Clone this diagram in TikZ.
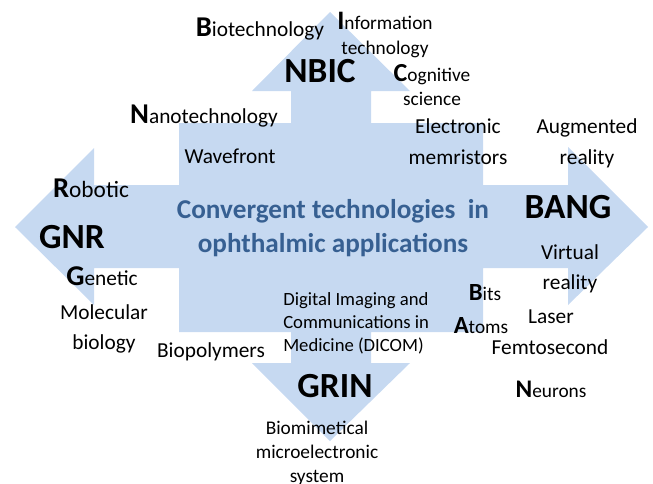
\documentclass[tikz,border=0pt]{standalone}
\usepackage{fontspec}
\setmainfont{Carlito}
\newcommand{\first}[2][21.5]{{\fontsize{#1}{#1}\selectfont\bfseries #2}}

\begin{document}
\begin{tikzpicture}[x=0.75pt,y=0.75pt,yscale=-1,xscale=1,
		word/.style={anchor=base,inner sep=0pt,align=center,font=\fontsize{16}{#1}\selectfont},
		word/.default=18,
		small/.style={anchor=base,inner sep=0pt,align=center,font=\fontsize{14.5}{#1}\selectfont},
		small/.default=18,
		big/.style={anchor=base,inner sep=0pt,font=\fontsize{26.5}{30}\selectfont\bfseries}]
		\useasboundingbox (0,0) rectangle (653,483);
		
		% four way arrow
		\draw  [draw=none][fill={rgb, 255:red, 198; green, 217; blue, 241 }  ,fill opacity=1 ]  (330,12) -- (410,91) -- (371,91) -- (371,123) -- (483,123) -- (483,185) -- (568,185) -- (568,147) -- (648,227) -- (568,305) -- (568,268) -- (483,268) -- (483,332) -- (371,332) -- (371,363) -- (410,363) -- (330,441) -- (252,363) -- (291,363) -- (291,332) -- (179,332) -- (179,268) -- (94,268) -- (94,305) -- (15,227) -- (94,148) -- (94,185) -- (179,185) -- (179,123) -- (291,123) -- (291,91) -- (252,91) -- cycle ;
		
		% title (base = last line)
		\draw (333,252) node (title) [anchor=base,inner sep=0pt,align=center,font=\fontsize{20.4}{25.5}\selectfont\bfseries,color={rgb, 255:red, 55; green, 96; blue, 146 }] {Convergent technologies\ \ in\\ophthalmic applications};
		
		% NBIC
		\draw (320,82) node (nbic) [big] {NBIC};
		\draw (260,36) node (biotech) [word] {\first{B}iotechnology};
		\draw (385,54) node (infotech) [small=18.4] {\first[20]{I}nformation\\technology};
		\draw (432,105) node (cognitive) [small] {\first[19.5]{C}ognitive\\science};
		\draw (204,123) node (nanotech) [word] {\first{N}anotechnology};
		\draw (230,163) node (wavefront) [word] {Wavefront};
		\draw (458,164) node (memristor) [word=23.2] {Electronic\\memristors};
		
		% BANG
		\draw (568,218) node (bang) [big] {BANG};
		\draw (587,164) node (augmented) [word=23.2] {Augmented\\reality};
		\draw (570,289) node (virtual) [word=22.5] {Virtual\\reality};
		\draw (485,300) node (bits) [small] {\first[18.5]{B}its};
		\draw (481,333) node (atoms) [small] {\first[18.5]{A}toms};
		\draw (551,323) node (laser) [word] {Laser};
		\draw (550,354) node (femto) [word] {Femtosecond};
		\draw (551,397) node (neurons) [small] {\first[19]{N}eurons};
		
		% GNR
		\draw (72,248) node (gnr) [big] {GNR};
		\draw (91,197) node (robotic) [word,font=\fontsize{17.5}{18}\selectfont] {\first{R}obotic};
		\draw (102,285) node (genetic) [word] {\first{G}enetic};
		\draw (104,349) node (molecular) [word=22.5] {Molecular\\biology};
		\draw (211,357) node (biopoly) [word] {Biopolymers};
		
		% GRIN
		\draw (335,397) node (grin) [big] {GRIN};
		\draw (283,351) node (dicom) [anchor=base west,inner sep=0pt,align=left,font=\fontsize{14}{17}\selectfont] {Digital Imaging and\\Communications in\\Medicine (DICOM)};
		\draw (317,482) node (biomim) [small] {Biomimetical\\microelectronic\\system};
		
\end{tikzpicture}
\end{document}
